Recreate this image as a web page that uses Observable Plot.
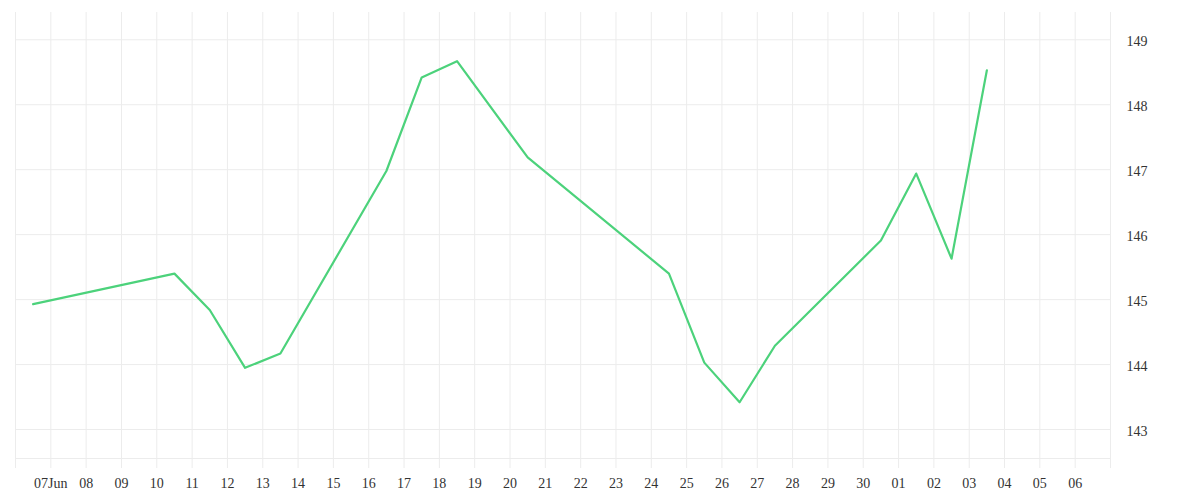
<!DOCTYPE html>
<html>
<head>
<meta charset="utf-8">
<script src="https://cdn.jsdelivr.net/npm/d3@7"></script>
<script src="https://cdn.jsdelivr.net/npm/@observablehq/plot@0.6"></script>
<style>
  html, body { margin: 0; padding: 0; background: #fff; }
</style>
</head>
<body>
<div id="chart"></div>
<script>
// Data
const dates = ["2024-06-06", "2024-06-10", "2024-06-11", "2024-06-12", "2024-06-13",
  "2024-06-16", "2024-06-17", "2024-06-18", "2024-06-20", "2024-06-24", "2024-06-25",
  "2024-06-26", "2024-06-27", "2024-06-30", "2024-07-01", "2024-07-02", "2024-07-03"];
const prices = [144.93, 145.40, 144.84, 143.95, 144.17,
  146.98, 148.42, 148.67, 147.19, 145.40, 144.03,
  143.42, 144.29, 145.91, 146.94, 145.63, 148.53];
const yTicks = [143, 144, 145, 146, 147, 148, 149];
const xStart = "2024-06-06";
const xEnd = "2024-07-07";
const yMin = 142.554;
const yMax = 149.42;

const data = dates.map((d, i) => ({date: new Date(d + "T12:00:00Z"), value: prices[i]}));
const gridDays = d3.utcDay.range(new Date(xStart + "T00:00:00Z"), d3.utcDay.offset(new Date(xEnd + "T00:00:00Z"), 1));
const labelDays = gridDays.slice(1, -1);

const fmt = d => (d.getUTCDate() === 7 && d.getUTCMonth() === 5)
  ? d3.utcFormat("%d")(d) + "Jun"
  : d3.utcFormat("%d")(d);

const chart = Plot.plot({
  width: 1200,
  height: 500,
  marginLeft: 15,
  marginRight: 90,
  marginTop: 12,
  marginBottom: 42,
  style: {fontFamily: "'Liberation Serif', serif", fontSize: "14px", color: "#333", background: "#fff"},
  x: {type: "utc", domain: [new Date(xStart + "T00:00:00Z"), new Date(xEnd + "T00:00:00Z")]},
  y: {domain: [yMin, yMax]},
  marks: [
    Plot.ruleX(gridDays, {stroke: "#ececec", strokeWidth: 1, insetBottom: -10}),
    Plot.ruleY(yTicks, {stroke: "#ececec", strokeWidth: 1}),
    Plot.ruleY([yMin], {stroke: "#ececec", strokeWidth: 1}),
    Plot.axisX({ticks: labelDays, tickFormat: fmt, tickSize: 0, tickPadding: 20, label: null}),
    Plot.axisY({anchor: "right", ticks: yTicks, tickSize: 0, tickPadding: 16, dy: 1.5, label: null, tickFormat: d => String(d)}),
    Plot.line(data, {x: "date", y: "value", stroke: "#4cd27b", strokeWidth: 2.2})
  ]
});
document.getElementById("chart").appendChild(chart);
</script>
</body>
</html>
